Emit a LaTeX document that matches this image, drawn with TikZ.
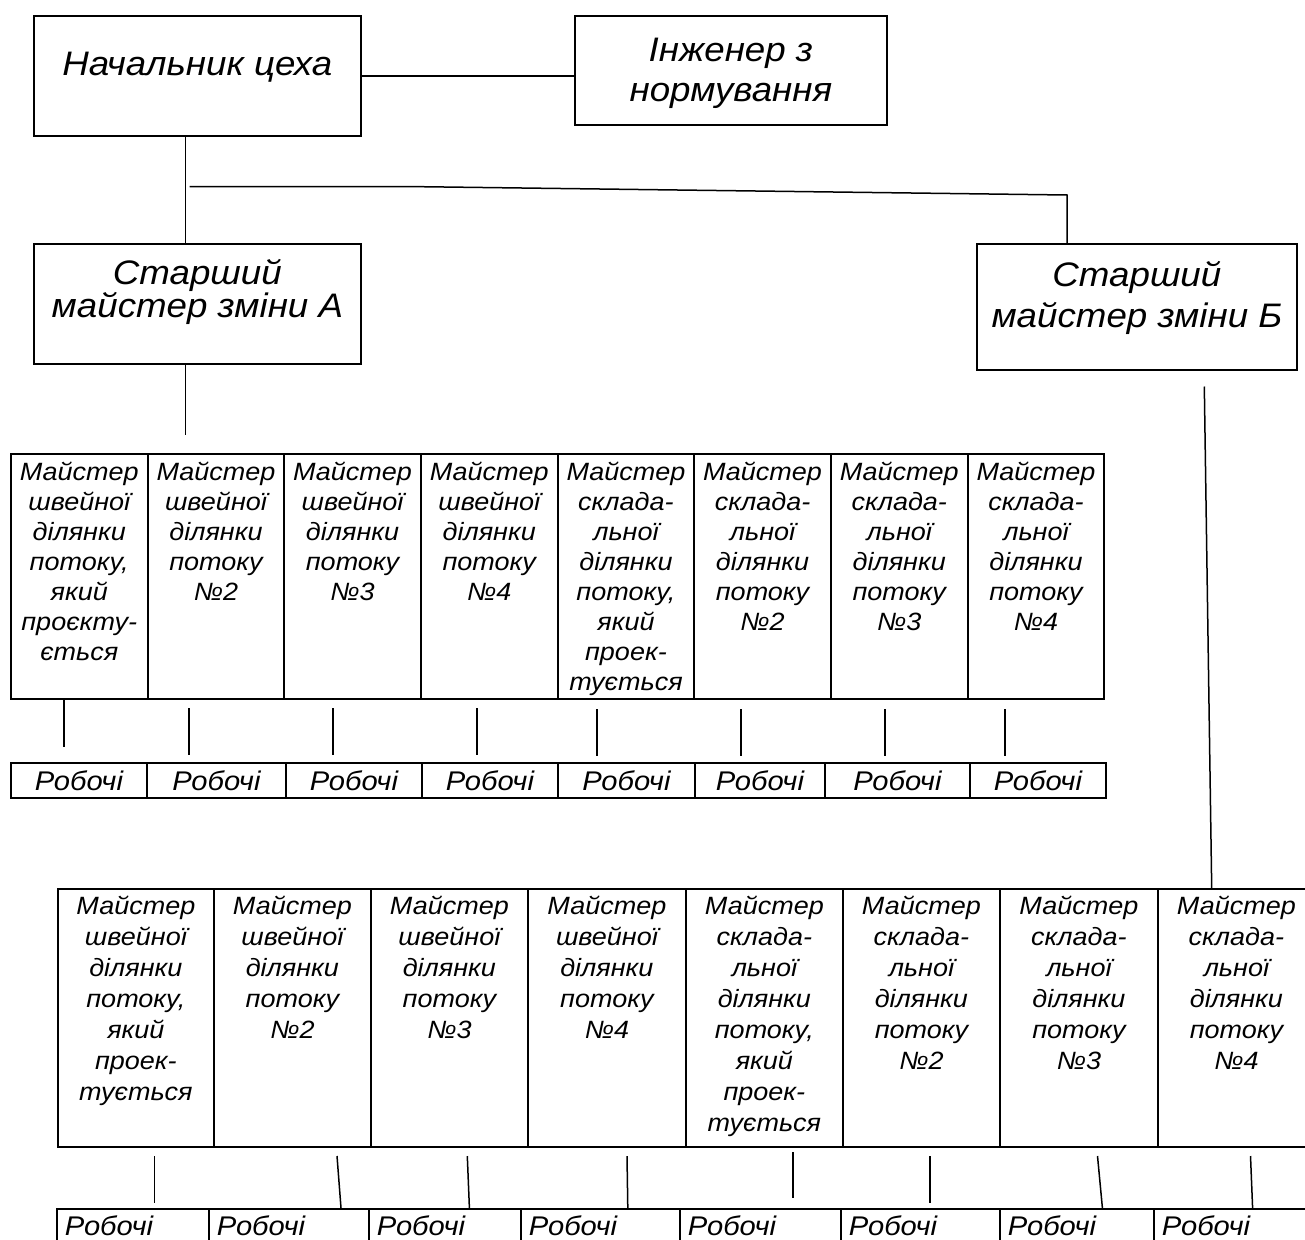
\documentclass[tikz,border=0pt]{standalone}
\usepackage{fontspec}
\setmainfont{Liberation Sans}[FakeStretch=1.08]
\newcommand{\cellbox}[5]{\parbox[c][#2][t]{#1}{#4\lineskiplimit=-100pt\centering\vspace*{#3}#5\par}}
\newcommand{\fTopA}{\fontsize{34}{35}\selectfont\itshape}
\newcommand{\fTopI}{\fontsize{34}{40}\selectfont\itshape}
\newcommand{\fTopB}{\fontsize{34}{33}\selectfont\itshape}
\newcommand{\fTopC}{\fontsize{34}{41}\selectfont\itshape}
\newcommand{\fRowA}{\fontsize{25}{30}\selectfont\itshape}
\newcommand{\fRowB}{\fontsize{25}{31}\selectfont\itshape}
\newcommand{\fWork}{\fontsize{27}{30}\selectfont\itshape}
\newcommand{\sewFirstA}{Майстер\\швейної\\ділянки\\потоку,\\який\\проєкту-\\ється}
\newcommand{\sewFirstB}{Майстер\\швейної\\ділянки\\потоку,\\який\\проек-\\тується}
\newcommand{\sewN}[1]{Майстер\\швейної\\ділянки\\потоку\\№#1}
\newcommand{\asmFirst}{Майстер\\склада-\\льної\\ділянки\\потоку,\\який\\проек-\\тується}
\newcommand{\asmN}[1]{Майстер\\склада-\\льної\\ділянки\\потоку\\№#1}
\newcommand{\wkC}[1]{\makebox[#1][c]{\fWork Робочі}}
\newcommand{\wkL}[1]{\makebox[#1][l]{\fWork\hspace*{8pt}Робочі}}
\begin{document}
\begin{tikzpicture}[x=1pt,y=-1pt,
  box/.style={draw, line width=1.8pt, inner sep=0pt, anchor=north west},
  wbox/.style={box, minimum height=#1},
  conn/.style={line width=1.5pt}]
\useasboundingbox (0,0) rectangle (1305,1239);
\fill[white] (0,0) rectangle (1305,1239);

% top level
\node[box] (N) at (33,15) {\cellbox{327pt}{120pt}{36pt}{\fTopA}{Начальник цеха}};
\node[box] (I) at (574,15) {\cellbox{312pt}{109pt}{22pt}{\fTopI}{Інженер з\\нормування}};
\node[box] (A) at (33,243) {\cellbox{327pt}{120pt}{15pt}{\fTopB}{Старший\\майстер зміни А}};
\node[box] (B) at (976,243) {\cellbox{320pt}{126pt}{17pt}{\fTopC}{Старший\\майстер зміни Б}};

% row 1 masters
\node[box] (r1m1) at (10,453)    {\cellbox{136.7pt}{245pt}{8pt}{\fRowA}{\sewFirstA}};
\node[box] (r1m2) at (146.7,453) {\cellbox{136.7pt}{245pt}{8pt}{\fRowA}{\sewN{2}}};
\node[box] (r1m3) at (283.3,453) {\cellbox{136.7pt}{245pt}{8pt}{\fRowA}{\sewN{3}}};
\node[box] (r1m4) at (420,453)   {\cellbox{136.7pt}{245pt}{8pt}{\fRowA}{\sewN{4}}};
\node[box] (r1m5) at (556.7,453) {\cellbox{136.7pt}{245pt}{8pt}{\fRowA}{\asmFirst}};
\node[box] (r1m6) at (693.3,453) {\cellbox{136.7pt}{245pt}{8pt}{\fRowA}{\asmN{2}}};
\node[box] (r1m7) at (830,453)   {\cellbox{136.7pt}{245pt}{8pt}{\fRowA}{\asmN{3}}};
\node[box] (r1m8) at (966.7,453) {\cellbox{136.7pt}{245pt}{8pt}{\fRowA}{\asmN{4}}};

% row 1 workers
\node[wbox=35pt] (r1w1) at (10,762)  {\wkC{136pt}};
\node[wbox=35pt] (r1w2) at (146,762) {\wkC{139pt}};
\node[wbox=35pt] (r1w3) at (285,762) {\wkC{136pt}};
\node[wbox=35pt] (r1w4) at (421,762) {\wkC{136pt}};
\node[wbox=35pt] (r1w5) at (557,762) {\wkC{137pt}};
\node[wbox=35pt] (r1w6) at (694,762) {\wkC{130pt}};
\node[wbox=35pt] (r1w7) at (824,762) {\wkC{145pt}};
\node[wbox=35pt] (r1w8) at (969,762) {\wkC{136pt}};

% row 2 masters
\node[box] (r2m1) at (57,888)   {\cellbox{156pt}{258pt}{7pt}{\fRowB}{\sewFirstB}};
\node[box] (r2m2) at (213,888)  {\cellbox{157pt}{258pt}{7pt}{\fRowB}{\sewN{2}}};
\node[box] (r2m3) at (370,888)  {\cellbox{157pt}{258pt}{7pt}{\fRowB}{\sewN{3}}};
\node[box] (r2m4) at (527,888)  {\cellbox{158pt}{258pt}{7pt}{\fRowB}{\sewN{4}}};
\node[box] (r2m5) at (685,888)  {\cellbox{157pt}{258pt}{7pt}{\fRowB}{\asmFirst}};
\node[box] (r2m6) at (842,888)  {\cellbox{157pt}{258pt}{7pt}{\fRowB}{\asmN{2}}};
\node[box] (r2m7) at (999,888)  {\cellbox{158pt}{258pt}{7pt}{\fRowB}{\asmN{3}}};
\node[box] (r2m8) at (1157,888) {\cellbox{157pt}{258pt}{7pt}{\fRowB}{\asmN{4}}};

% row 2 workers
\node[wbox=34pt] (r2w1) at (56,1208)   {\wkL{152pt}};
\node[wbox=34pt] (r2w2) at (208,1208)  {\wkL{160pt}};
\node[wbox=34pt] (r2w3) at (368,1208)  {\wkL{152pt}};
\node[wbox=34pt] (r2w4) at (520,1208)  {\wkL{159pt}};
\node[wbox=34pt] (r2w5) at (679,1208)  {\wkL{161pt}};
\node[wbox=34pt] (r2w6) at (840,1208)  {\wkL{159pt}};
\node[wbox=34pt] (r2w7) at (999,1208)  {\wkL{154pt}};
\node[wbox=34pt] (r2w8) at (1153,1208) {\wkL{157pt}};

% connectors, top part
\coordinate (tx) at (185.5,0);
\draw[conn] (N.east) -- (N.east -| I.west);
\draw[conn] (N.south -| tx) -- (A.north -| tx);
\coordinate (b0) at (189.5,186.5);
\coordinate (b1) at (405,186.5);
\coordinate (b2) at (1067,195);
\draw[conn] (b0) -- (b1) -- (b2) -- (b2 |- B.north);
\coordinate (a1) at (185.5,435);
\draw[conn] (A.south -| a1) -- (a1);
\coordinate (bd0) at (1204.3,386.5);
\coordinate (bd1) at (1211.7,888);
\draw[conn] (bd0) -- (bd1);

% row 1 connectors (free ends)
\foreach \k/\xa/\ya/\yb in {1/64/700/747, 2/189/708/755, 3/333/708/755, 4/477/708/755,
                            5/597/709/756, 6/741/709/756, 7/885/709/756, 8/1005/709/756}{
  \coordinate (u\k a) at (\xa,\ya);
  \coordinate (u\k b) at (\xa,\yb);
  \draw[conn] (u\k a) -- (u\k b);
}
% row 2 connectors
\foreach \k/\xa/\ya/\xb/\yb in {1/154.3/1156/154.3/1203, 2/337/1156/341/1208,
      3/467.3/1156/469.4/1208, 4/627/1156/627.8/1208, 5/793/1152/793/1198,
      6/930/1156/930/1203, 7/1097.5/1156/1102.4/1208, 8/1250.5/1156/1252.6/1208}{
  \coordinate (v\k a) at (\xa,\ya);
  \coordinate (v\k b) at (\xb,\yb);
  \draw[conn] (v\k a) -- (v\k b);
}
\end{tikzpicture}
\end{document}
